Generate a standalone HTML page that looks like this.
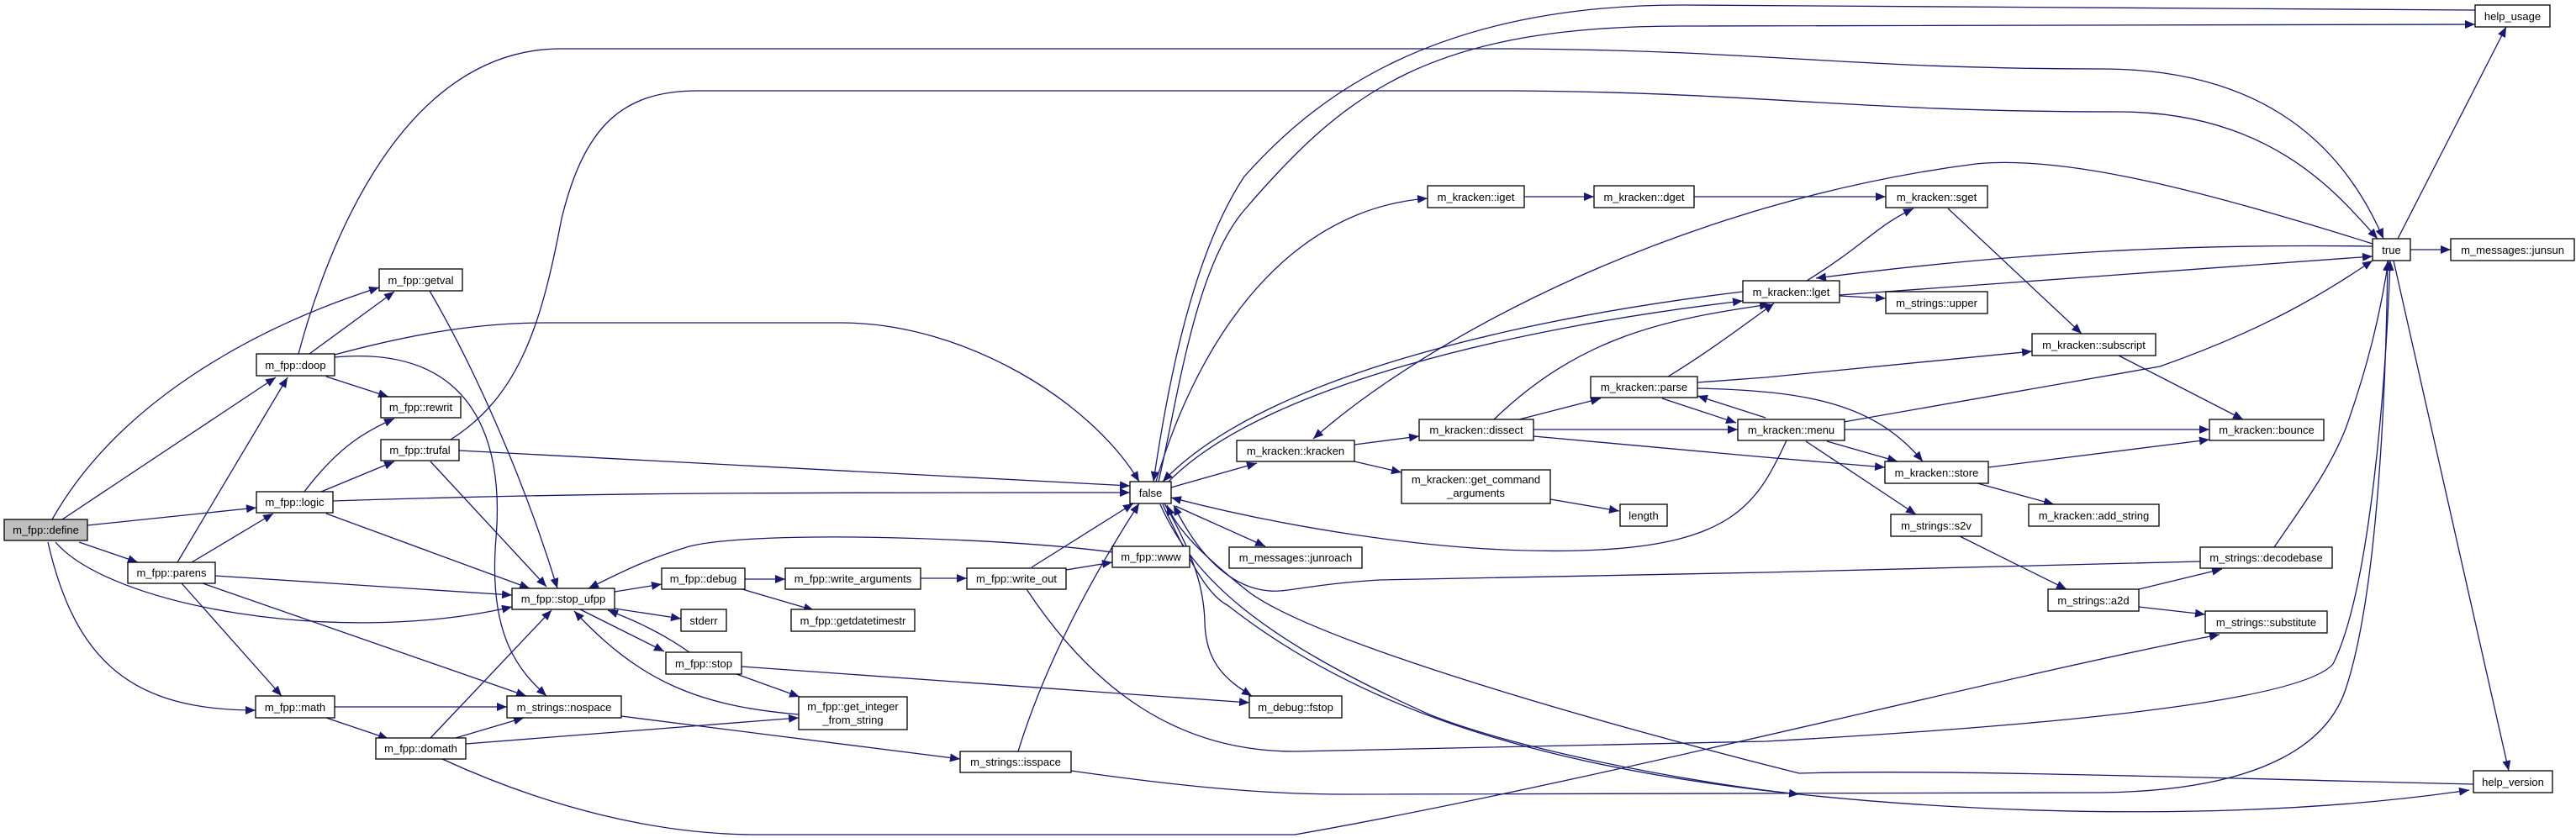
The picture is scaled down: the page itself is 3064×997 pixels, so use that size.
<!DOCTYPE html>
<html><head><meta charset="utf-8"><style>
html,body{margin:0;padding:0;background:#fff;}
svg{display:block;}
text{font-family:"Liberation Sans",sans-serif;font-size:13px;fill:#000;}
</style></head><body>
<svg width="3064" height="997" viewBox="0 0 3064 997" xmlns="http://www.w3.org/2000/svg">
<defs>
<marker id="a" markerUnits="userSpaceOnUse" markerWidth="14" markerHeight="10" refX="12" refY="5" orient="auto">
<path d="M0,0 L12,5 L0,10 Z" fill="#191970"/>
</marker>
</defs>
<g fill="none" stroke="#191970" stroke-width="1.3" marker-end="url(#a)">
<path d="M62,618 C140,480 300,390 451,342"/>
<path d="M74,618 L328,449"/>
<path d="M104,625 L305,604"/>
<path d="M94,645 L164,669"/>
<path d="M66,645 C130,720 400,770 609,722"/>
<path d="M57,645 C90,790 160,845 304,845"/>
<path d="M368,421 L469,347"/>
<path d="M355,421 C390,290 480,58 667,58 L1800,58 C2100,60 2200,82 2500,82 C2700,82 2790,180 2835,284"/>
<path d="M398,422 C480,400 560,384 650,384 L1000,384 C1150,384 1300,480 1355,573"/>
<path d="M398,425 C560,410 600,520 590,640 C580,760 620,800 650,828"/>
<path d="M388,448 L462,472"/>
<path d="M536,523 C620,470 645,380 668,260 C695,150 740,108 830,108 L1800,108 C2100,110 2200,133 2520,133 C2700,133 2780,230 2828,284"/>
<path d="M546,536 L1344,578"/>
<path d="M512,549 L650,698"/>
<path d="M511,346 C560,430 620,560 663,700"/>
<path d="M362,585 C400,535 430,515 469,498"/>
<path d="M382,585 L469,549"/>
<path d="M396,596 C700,586 900,586 1344,586"/>
<path d="M388,611 L630,700"/>
<path d="M211,669 L342,449"/>
<path d="M228,669 L325,611"/>
<path d="M256,685 L609,708"/>
<path d="M241,694 L626,828"/>
<path d="M216,694 L335,828"/>
<path d="M398,841 L603,841"/>
<path d="M388,854 L462,879"/>
<path d="M512,878 L656,726"/>
<path d="M542,878 L623,854"/>
<path d="M554,885 L950,854"/>
<path d="M526,903 C650,960 780,993 900,993 L1540,993 C1900,930 2400,800 2640,755"/>
<path d="M731,704 L787,695"/>
<path d="M731,724 L810,736"/>
<path d="M690,725 L790,775"/>
<path d="M820,776 C790,755 760,740 723,726"/>
<path d="M950,850 C830,840 760,810 683,727"/>
<path d="M876,802 L951,829"/>
<path d="M882,793 L1486,836"/>
<path d="M886,689 L934,689"/>
<path d="M883,701 L968,726"/>
<path d="M1323,657 C1200,640 900,630 820,650 C770,665 740,680 700,700"/>
<path d="M1095,688 L1150,688"/>
<path d="M1268,678 L1323,669"/>
<path d="M1227,675 L1348,599"/>
<path d="M1221,701 C1300,820 1400,894 1540,894 L2100,882 C2500,860 2740,830 2775,790 C2820,700 2838,450 2843,310"/>
<path d="M739,852 L1142,903"/>
<path d="M1211,894 C1240,800 1290,700 1355,599"/>
<path d="M1274,917 C1400,935 1500,945 1600,945 L2500,943 C2700,940 2770,880 2790,820 C2830,700 2838,450 2840,310"/>
<path d="M1393,580 L1495,551"/>
<path d="M1398,602 L1505,650"/>
<path d="M1385,599 C1420,660 1432,700 1433,740 C1434,790 1460,810 1489,828"/>
<path d="M1375,573 C1420,420 1520,250 1698,236"/>
<path d="M1378,573 C1400,480 1420,320 1480,250 C1600,110 1700,31 2000,31 L2944,29"/>
<path d="M2944,12 L2000,6 C1700,6 1560,120 1480,210 C1420,300 1390,450 1372,573"/>
<path d="M2125,524 C2090,600 2060,650 1880,655 C1700,660 1500,620 1393,592"/>
<path d="M2073,347 C1800,380 1500,450 1383,573"/>
<path d="M1390,573 C1500,460 1800,390 2073,358"/>
<path d="M2617,668 L2100,681 L1640,690 C1560,695 1530,705 1510,703 C1470,700 1430,670 1396,601"/>
<path d="M2942,933 C2600,925 2300,915 2140,920 C1900,860 1550,760 1480,700 C1430,660 1400,630 1388,601"/>
<path d="M1383,600 C1420,680 1440,710 1460,720 C1600,830 1800,910 2140,945 C2400,972 2700,975 2937,940"/>
<path d="M1380,600 C1420,690 1500,760 1700,850 C1800,890 2000,930 2140,945"/>
<path d="M2822,290 C2600,220 2450,185 2350,195 C2000,240 1700,400 1562,522"/>
<path d="M1611,529 L1688,519"/>
<path d="M1611,549 L1667,562"/>
<path d="M1844,594 L1926,608"/>
<path d="M1777,499 C1880,400 1980,380 2105,362"/>
<path d="M1807,499 L1904,474"/>
<path d="M1824,511 L2067,511"/>
<path d="M1824,519 L2100,544 L2242,556"/>
<path d="M1984,448 C2030,420 2070,390 2110,361"/>
<path d="M1977,474 L2065,503"/>
<path d="M2100,497 L2019,471"/>
<path d="M2019,455 L2100,449 L2417,418"/>
<path d="M2019,462 C2150,465 2230,480 2287,549"/>
<path d="M2194,511 L2628,511"/>
<path d="M2193,502 L2569,436 C2700,390 2770,345 2822,310"/>
<path d="M2173,525 L2257,549"/>
<path d="M2148,525 L2279,612"/>
<path d="M2149,334 C2220,290 2230,270 2276,248"/>
<path d="M2188,352 L2243,355"/>
<path d="M2188,351 L2822,305"/>
<path d="M2822,293 C2600,290 2400,300 2160,331"/>
<path d="M1813,234 L1896,234"/>
<path d="M2015,234 L2243,234"/>
<path d="M2317,248 L2476,397"/>
<path d="M2520,423 L2668,499"/>
<path d="M2365,556 L2628,523"/>
<path d="M2352,575 L2443,600"/>
<path d="M2331,638 L2458,701"/>
<path d="M2544,701 L2643,677"/>
<path d="M2544,722 L2623,731"/>
<path d="M2705,651 C2740,600 2770,560 2790,510 C2815,440 2830,380 2841,310"/>
<path d="M2852,284 L2981,32"/>
<path d="M2867,297 L2915,297"/>
<path d="M2847,310 L2984,917"/>
</g>
<g stroke="#000" stroke-width="1.3">
<rect x="5" y="618" width="99" height="25" fill="#bfbfbf"/>
</g>
<g fill="#fff" stroke="#000" stroke-width="1.3">
<rect x="451" y="320" width="99" height="26"/>
<rect x="305" y="421" width="93" height="26"/>
<rect x="453" y="472" width="95" height="25"/>
<rect x="453" y="523" width="93" height="25"/>
<rect x="305" y="585" width="91" height="25"/>
<rect x="152" y="669" width="104" height="25"/>
<rect x="609" y="700" width="122" height="25"/>
<rect x="787" y="676" width="99" height="25"/>
<rect x="934" y="676" width="161" height="25"/>
<rect x="810" y="725" width="54" height="26"/>
<rect x="941" y="725" width="147" height="26"/>
<rect x="792" y="776" width="90" height="26"/>
<rect x="950" y="829" width="129" height="39"/>
<rect x="304" y="828" width="94" height="26"/>
<rect x="603" y="828" width="136" height="26"/>
<rect x="447" y="878" width="107" height="25"/>
<rect x="1150" y="676" width="118" height="25"/>
<rect x="1323" y="650" width="92" height="25"/>
<rect x="1344" y="573" width="49" height="26"/>
<rect x="1471" y="524" width="140" height="25"/>
<rect x="1462" y="651" width="158" height="25"/>
<rect x="1486" y="828" width="110" height="26"/>
<rect x="1142" y="894" width="132" height="25"/>
<rect x="1698" y="221" width="115" height="26"/>
<rect x="1896" y="221" width="119" height="26"/>
<rect x="1688" y="499" width="136" height="25"/>
<rect x="1667" y="559" width="177" height="40"/>
<rect x="1927" y="600" width="56" height="26"/>
<rect x="1892" y="448" width="127" height="25"/>
<rect x="2073" y="334" width="115" height="26"/>
<rect x="2067" y="499" width="127" height="25"/>
<rect x="2243" y="221" width="121" height="26"/>
<rect x="2243" y="347" width="121" height="26"/>
<rect x="2417" y="397" width="147" height="26"/>
<rect x="2628" y="499" width="136" height="25"/>
<rect x="2242" y="549" width="123" height="26"/>
<rect x="2413" y="600" width="155" height="26"/>
<rect x="2249" y="612" width="108" height="26"/>
<rect x="2617" y="651" width="157" height="25"/>
<rect x="2436" y="701" width="108" height="26"/>
<rect x="2623" y="727" width="145" height="26"/>
<rect x="2822" y="284" width="45" height="26"/>
<rect x="2915" y="284" width="147" height="26"/>
<rect x="2944" y="6" width="89" height="26"/>
<rect x="2942" y="917" width="94" height="26"/>
</g>
<g text-anchor="middle">
<text x="54.5" y="635">m_fpp::define</text>
<text x="500.5" y="338">m_fpp::getval</text>
<text x="351.5" y="439">m_fpp::doop</text>
<text x="500.5" y="489">m_fpp::rewrit</text>
<text x="499.5" y="540">m_fpp::trufal</text>
<text x="350.5" y="602">m_fpp::logic</text>
<text x="204" y="686">m_fpp::parens</text>
<text x="670" y="717">m_fpp::stop_ufpp</text>
<text x="836.5" y="693">m_fpp::debug</text>
<text x="1014.5" y="693">m_fpp::write_arguments</text>
<text x="837" y="743">stderr</text>
<text x="1014.5" y="743">m_fpp::getdatetimestr</text>
<text x="837" y="794">m_fpp::stop</text>
<text x="1014.5" y="845">m_fpp::get_integer</text>
<text x="1014.5" y="861">_from_string</text>
<text x="351" y="846">m_fpp::math</text>
<text x="671" y="846">m_strings::nospace</text>
<text x="500.5" y="895">m_fpp::domath</text>
<text x="1209" y="693">m_fpp::write_out</text>
<text x="1369" y="667">m_fpp::www</text>
<text x="1368.5" y="591">false</text>
<text x="1541" y="541">m_kracken::kracken</text>
<text x="1541" y="668">m_messages::junroach</text>
<text x="1541" y="846">m_debug::fstop</text>
<text x="1208" y="911">m_strings::isspace</text>
<text x="1755.5" y="239">m_kracken::iget</text>
<text x="1955.5" y="239">m_kracken::dget</text>
<text x="1756" y="516">m_kracken::dissect</text>
<text x="1755.5" y="575">m_kracken::get_command</text>
<text x="1755.5" y="591">_arguments</text>
<text x="1955" y="618">length</text>
<text x="1955.5" y="465">m_kracken::parse</text>
<text x="2130.5" y="352">m_kracken::lget</text>
<text x="2130.5" y="516">m_kracken::menu</text>
<text x="2303.5" y="239">m_kracken::sget</text>
<text x="2303.5" y="365">m_strings::upper</text>
<text x="2490.5" y="415">m_kracken::subscript</text>
<text x="2696" y="516">m_kracken::bounce</text>
<text x="2303.5" y="567">m_kracken::store</text>
<text x="2490.5" y="618">m_kracken::add_string</text>
<text x="2303" y="630">m_strings::s2v</text>
<text x="2695.5" y="668">m_strings::decodebase</text>
<text x="2490" y="719">m_strings::a2d</text>
<text x="2695.5" y="745">m_strings::substitute</text>
<text x="2844.5" y="302">true</text>
<text x="2988.5" y="302">m_messages::junsun</text>
<text x="2988.5" y="24">help_usage</text>
<text x="2989" y="935">help_version</text>
</g>
</svg>
</body></html>
